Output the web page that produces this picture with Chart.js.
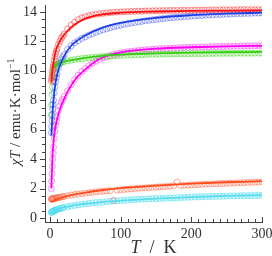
<!DOCTYPE html>
<html>
<head>
<meta charset="utf-8">
<script src="https://cdn.jsdelivr.net/npm/chart.js@4.4.0/dist/chart.umd.min.js"></script>
<style>
  body { margin: 0; background: #fff; }
</style>
</head>
<body>
<canvas id="chiTChart" width="272" height="256"></canvas>
<script>
  // temperatures of the measured points (K)
  var tempPts = [2, 2.5, 3, 3.5, 4, 4.5, 5, 6, 7, 8, 9, 10, 12, 14, 16, 18, 20,
    25, 30, 35, 40, 45, 50, 55, 60, 65, 70, 75, 80, 85, 90, 95, 100,
    105, 110, 115, 120, 125, 130, 135, 140, 145, 150, 155, 160, 165, 170, 175, 180, 185, 190, 195, 200,
    205, 210, 215, 220, 225, 230, 235, 240, 245, 250, 255, 260, 265, 270, 275, 280, 285, 290, 295, 300];

  // temperatures of the fitted curves (K)
  var tempFit = [2, 3, 4, 6, 8, 10, 15, 20, 30, 40, 50, 70, 100, 150, 200, 250, 300];

  // chiT data, emu K mol-1
  var redPts = [9.3, 9.5, 9.7, 9.9, 10.1, 10.25, 10.4, 10.7, 10.95, 11.15, 11.35, 11.5, 11.8, 12.0, 12.2, 12.35, 12.5,
    12.85, 13.1, 13.3, 13.48, 13.6, 13.68, 13.74, 13.8, 13.84, 13.88, 13.9, 13.93, 13.95, 13.97, 13.99, 14.0,
    14.01, 14.02, 14.03, 14.04, 14.05, 14.05, 14.06, 14.07, 14.07, 14.08, 14.08, 14.09, 14.09, 14.1, 14.1, 14.1, 14.11, 14.11, 14.11, 14.12,
    14.12, 14.12, 14.12, 14.13, 14.13, 14.13, 14.13, 14.14, 14.14, 14.14, 14.14, 14.14, 14.15, 14.15, 14.15, 14.15, 14.15, 14.15, 14.15, 14.15];
  var bluePts = [5.8, 6.2, 6.6, 7.0, 7.4, 7.7, 8.0, 8.5, 8.9, 9.25, 9.55, 9.8, 10.2, 10.5, 10.75, 10.95, 11.1,
    11.45, 11.7, 11.9, 12.05, 12.2, 12.3, 12.42, 12.52, 12.62, 12.7, 12.78, 12.85, 12.92, 12.98, 13.04, 13.1,
    13.15, 13.2, 13.24, 13.28, 13.32, 13.36, 13.4, 13.43, 13.46, 13.49, 13.52, 13.55, 13.57, 13.6, 13.62, 13.64, 13.66, 13.68, 13.7, 13.72,
    13.73, 13.75, 13.76, 13.78, 13.79, 13.8, 13.82, 13.83, 13.84, 13.85, 13.86, 13.87, 13.88, 13.89, 13.9, 13.9, 13.91, 13.92, 13.92, 13.93];
  var greenPts = [7.0, 7.7, 8.4, 8.9, 9.3, 9.6, 9.8, 10.1, 10.25, 10.35, 10.4, 10.45, 10.5, 10.55, 10.58, 10.6, 10.63,
    10.68, 10.72, 10.76, 10.8, 10.83, 10.86, 10.88, 10.91, 10.93, 10.95, 10.97, 10.99, 11.0, 11.02, 11.03, 11.05,
    11.06, 11.07, 11.08, 11.09, 11.1, 11.1, 11.11, 11.12, 11.12, 11.13, 11.13, 11.14, 11.14, 11.15, 11.15, 11.15, 11.16, 11.16, 11.16, 11.17,
    11.17, 11.17, 11.17, 11.18, 11.18, 11.18, 11.18, 11.19, 11.19, 11.19, 11.19, 11.19, 11.2, 11.2, 11.2, 11.2, 11.2, 11.2, 11.2, 11.2];
  var magentaPts = [2.0, 2.5, 3.0, 3.5, 4.0, 4.4, 4.8, 5.4, 5.9, 6.3, 6.6, 6.9, 7.3, 7.6, 7.85, 8.05, 8.25,
    8.65, 9.05, 9.4, 9.7, 9.95, 10.15, 10.35, 10.5, 10.65, 10.77, 10.87, 10.95, 11.03, 11.1, 11.16, 11.21,
    11.25, 11.29, 11.32, 11.35, 11.38, 11.4, 11.42, 11.44, 11.46, 11.48, 11.5, 11.51, 11.52, 11.54, 11.55, 11.56, 11.57, 11.58, 11.59, 11.6,
    11.6, 11.61, 11.62, 11.62, 11.63, 11.64, 11.64, 11.65, 11.65, 11.66, 11.66, 11.67, 11.67, 11.68, 11.68, 11.69, 11.69, 11.7, 11.7, 11.71];
  var orangePts = [1.28, 1.29, 1.3, 1.3, 1.31, 1.31, 1.32, 1.33, 1.34, 1.35, 1.36, 1.37, 1.39, 1.41, 1.43, 1.45, 1.47,
    1.52, 1.56, 1.6, 1.63, 1.66, 1.69, 1.72, 1.75, 1.78, 1.8, 1.82, 1.84, 1.86, 1.2, 1.9, 1.92,
    1.94, 1.96, 1.98, 2.0, 2.02, 2.04, 2.05, 2.07, 2.08, 2.1, 2.12, 2.13, 2.15, 2.16, 2.18, 2.45, 2.2, 2.22, 2.23, 2.25,
    2.26, 2.27, 2.29, 2.3, 2.31, 2.32, 2.33, 2.34, 2.35, 2.36, 2.37, 2.38, 2.39, 2.4, 2.41, 2.42, 2.43, 2.44, 2.45, 2.46];
  var cyanPts = [0.38, 0.4, 0.42, 0.44, 0.45, 0.47, 0.48, 0.5, 0.52, 0.54, 0.56, 0.58, 0.61, 0.64, 0.67, 0.69, 0.72,
    0.77, 0.82, 0.86, 0.9, 0.93, 0.96, 0.99, 1.02, 1.05, 1.07, 1.09, 1.11, 1.13, 1.15, 1.17, 1.19,
    1.2, 1.22, 1.24, 1.25, 1.27, 1.28, 1.29, 1.3, 1.31, 1.32, 1.33, 1.34, 1.35, 1.36, 1.37, 1.38, 1.39, 1.4, 1.41, 1.42,
    1.43, 1.44, 1.44, 1.45, 1.46, 1.46, 1.47, 1.48, 1.48, 1.49, 1.5, 1.5, 1.51, 1.51, 1.52, 1.52, 1.53, 1.53, 1.54, 1.54];

  // fitted curves
  var redFit = [9.2, 9.75, 10.2, 10.85, 11.3, 11.6, 12.1, 12.45, 12.95, 13.3, 13.55, 13.8, 13.95, 14.03, 14.07, 14.09, 14.1];
  var blueFit = [5.6, 6.6, 7.4, 8.5, 9.2, 9.7, 10.5, 11.0, 11.7, 12.1, 12.4, 12.85, 13.25, 13.6, 13.78, 13.88, 13.95];
  var greenFit = [9.6, 9.9, 10.1, 10.3, 10.4, 10.45, 10.55, 10.62, 10.72, 10.8, 10.88, 11.0, 11.1, 11.18, 11.23, 11.26, 11.28];
  var magentaFit = [2.0, 3.4, 4.5, 5.6, 6.2, 6.7, 7.5, 8.1, 9.0, 9.65, 10.1, 10.8, 11.25, 11.5, 11.6, 11.66, 11.7];
  var orangeFit = [1.1, 1.12, 1.15, 1.2, 1.24, 1.28, 1.36, 1.43, 1.55, 1.65, 1.73, 1.87, 2.03, 2.2, 2.33, 2.43, 2.5];
  var cyanFit = [0.33, 0.37, 0.41, 0.47, 0.52, 0.56, 0.65, 0.72, 0.83, 0.91, 0.97, 1.07, 1.18, 1.32, 1.42, 1.5, 1.56];

  var xTickLabels = [0, 100, 200, 300];
  var yTickLabels = [0, 2, 4, 6, 8, 10, 12, 14];

  function pairs(xs, ys) {
    return xs.map(function (x, i) { return { x: x, y: ys[i] }; });
  }

  function ptsSet(vals, col) {
    return {
      data: pairs(tempPts, vals),
      showLine: false,
      pointStyle: 'circle',
      pointRadius: 3,
      pointBorderWidth: 1,
      pointBorderColor: col,
      pointBackgroundColor: 'rgba(0,0,0,0)',
      order: 1
    };
  }

  function fitSet(vals, col) {
    return {
      data: pairs(tempFit, vals),
      showLine: true,
      borderColor: col,
      borderWidth: 1.8,
      pointRadius: 0,
      cubicInterpolationMode: 'monotone',
      order: 0
    };
  }

  var serif = "'Liberation Serif', 'DejaVu Serif', serif";

  // minor ticks and the axis titles
  var axisExtras = {
    id: 'axisExtras',
    afterDraw: function (chart) {
      var ctx = chart.ctx, xs = chart.scales.x, ys = chart.scales.y;
      var a = chart.chartArea;
      ctx.save();
      ctx.strokeStyle = '#444';
      ctx.lineWidth = 1;
      ctx.beginPath();
      for (var t = 0; t <= 300; t += 10) {
        var px = Math.round(xs.getPixelForValue(t)) + 0.5;
        var len = (t % 100 === 0) ? 5 : 3;
        ctx.moveTo(px, a.bottom);
        ctx.lineTo(px, a.bottom - len);
      }
      for (var v = 0; v <= 14; v += 0.5) {
        var py = Math.round(ys.getPixelForValue(v)) + 0.5;
        var l2 = (v % 2 === 0) ? 5 : 3;
        ctx.moveTo(a.left, py);
        ctx.lineTo(a.left - l2, py);
      }
      ctx.stroke();

      ctx.fillStyle = '#333';
      ctx.textBaseline = 'alphabetic';
      // x title
      var fItal = 'italic 18px ' + serif, fReg = '18px ' + serif;
      ctx.font = fItal; var w1 = ctx.measureText('T').width;
      ctx.font = fReg; var w2 = ctx.measureText('  /  K').width;
      var x0 = (a.left + a.right) / 2 - (w1 + w2) / 2;
      ctx.font = fItal; ctx.fillText('T', x0, 253);
      ctx.font = fReg; ctx.fillText('  /  K', x0 + w1, 253);

      // y title, rotated, squeezed to the span it has in the original
      ctx.translate(20, 112);
      ctx.rotate(-Math.PI / 2);
      var yi = 'italic 15px ' + serif, yr = '15px ' + serif, ys2 = '10px ' + serif;
      ctx.font = yi; var a1 = ctx.measureText('\u03C7T').width;
      ctx.font = yr; var a2 = ctx.measureText(' / emu\u00B7K\u00B7mol').width;
      ctx.font = ys2; var a3 = ctx.measureText('\u22121').width;
      var total = a1 + a2 + a3;
      if (total > 112) ctx.scale(112 / total, 1);
      var s = -total / 2;
      ctx.font = yi; ctx.fillText('\u03C7T', s, 0);
      ctx.font = yr; ctx.fillText(' / emu\u00B7K\u00B7mol', s + a1, 0);
      ctx.font = ys2; ctx.fillText('\u22121', s + a1 + a2, -6);
      ctx.restore();
    }
  };

  var ctx = document.getElementById('chiTChart').getContext('2d');
  new Chart(ctx, {
    type: 'scatter',
    data: {
      datasets: [
        fitSet(redFit, '#ff1010'),
        fitSet(blueFit, '#1d3fe6'),
        fitSet(greenFit, '#33cc11'),
        fitSet(magentaFit, '#ff00ee'),
        fitSet(orangeFit, '#ff4a1a'),
        fitSet(cyanFit, '#55dcef'),
        ptsSet(redPts, 'rgba(255,70,70,0.6)'),
        ptsSet(bluePts, 'rgba(80,100,240,0.55)'),
        ptsSet(greenPts, 'rgba(90,220,60,0.65)'),
        ptsSet(magentaPts, 'rgba(255,70,250,0.6)'),
        ptsSet(orangePts, 'rgba(255,110,80,0.6)'),
        ptsSet(cyanPts, 'rgba(80,220,240,0.65)')
      ]
    },
    options: {
      responsive: false,
      animation: false,
      layout: { padding: { top: 1, right: 10, bottom: 0, left: 0 } },
      plugins: { legend: { display: false }, tooltip: { enabled: false } },
      scales: {
        x: {
          type: 'linear',
          min: -7,
          max: 300,
          grid: { display: false, drawTicks: false },
          border: { display: true, color: '#444', width: 1 },
          ticks: { font: { family: serif, size: 14 }, color: '#333', padding: 4, maxRotation: 0 },
          afterBuildTicks: function (s) { s.ticks = xTickLabels.map(function (v) { return { value: v }; }); },
          afterFit: function (s) { s.height = 34; s.paddingLeft = 0; s.paddingRight = 0; }
        },
        y: {
          min: -0.27,
          max: 14.47,
          grid: { display: false, drawTicks: false },
          border: { display: true, color: '#444', width: 1 },
          ticks: { font: { family: serif, size: 14 }, color: '#333', padding: 8 },
          afterBuildTicks: function (s) { s.ticks = yTickLabels.map(function (v) { return { value: v }; }); },
          afterFit: function (s) { s.width = 45; s.paddingTop = 0; s.paddingBottom = 0; }
        }
      }
    },
    plugins: [axisExtras]
  });
</script>
</body>
</html>
